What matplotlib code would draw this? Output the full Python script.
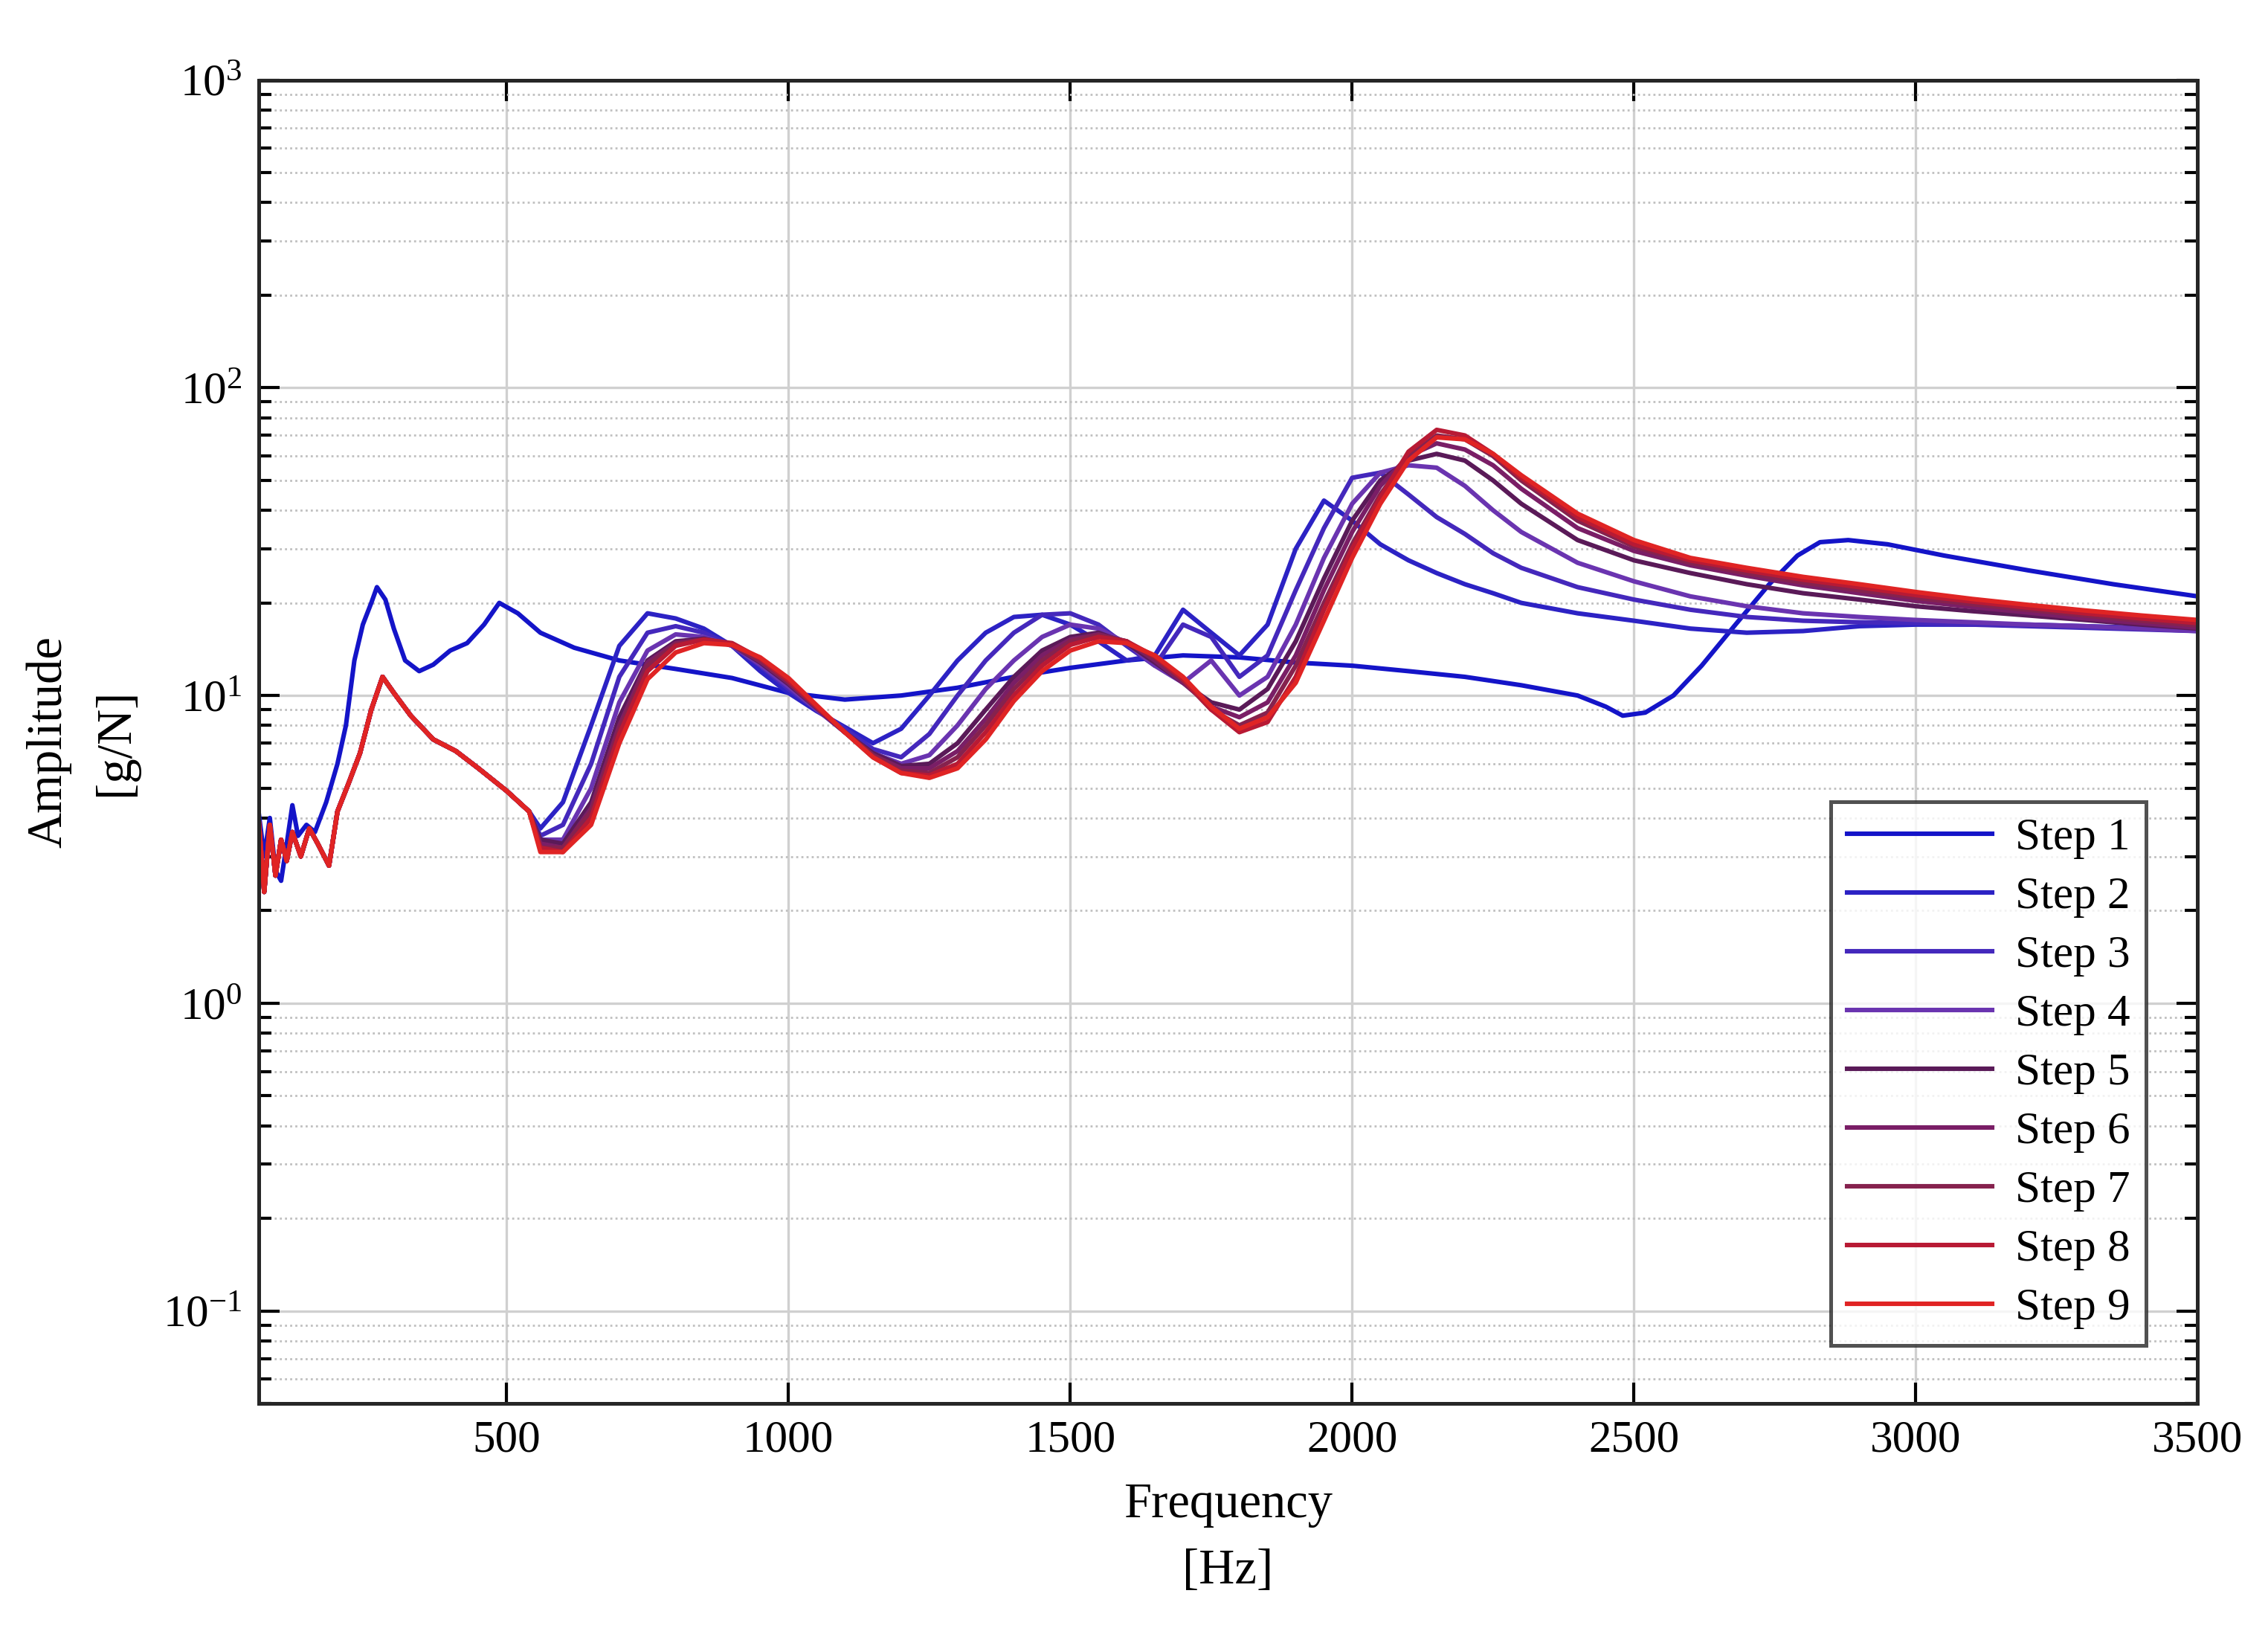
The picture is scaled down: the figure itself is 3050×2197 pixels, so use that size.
import matplotlib.pyplot as plt
from matplotlib.ticker import LogLocator, NullFormatter

plt.rcParams["font.family"] = ["Liberation Serif", "DejaVu Serif"]

# --- data (frequency in Hz, amplitude in g/N) ---
low_freq = [60, 70, 80, 90, 100, 110, 120, 135, 150, 165, 185, 200, 220, 240, 260, 280, 300, 330, 370, 410, 450, 500, 540]
low_amp = [4.0, 2.3, 3.8, 2.6, 3.4, 2.9, 3.6, 3.0, 3.7, 3.3, 2.8, 4.2, 5.2, 6.5, 9.0, 11.5, 10.2, 8.6, 7.2, 6.6, 5.8, 4.9, 4.2]

step1_f = [60, 70, 80, 90, 100, 110, 120, 130, 145, 160, 180, 200, 215, 230, 245, 260, 270, 285, 300, 320, 345, 370, 400, 430, 460, 487,
           520, 560, 620, 700, 800, 900, 1000, 1100, 1200, 1300, 1400, 1500, 1600, 1700, 1800, 1900, 2000, 2100, 2200, 2300, 2400,
           2450, 2480, 2520, 2570, 2620, 2680, 2740, 2790, 2830, 2880, 2950, 3050, 3200, 3350, 3500]
step1_a = [4.2, 3.0, 4.0, 2.7, 2.5, 3.3, 4.4, 3.5, 3.8, 3.6, 4.5, 6.0, 8.0, 13.0, 17.0, 20.0, 22.5, 20.5, 16.5, 13.0, 12.0, 12.6, 14.0, 14.8, 17.0, 20.0,
           18.5, 16.0, 14.3, 13.0, 12.2, 11.4, 10.2, 9.7, 10.0, 10.6, 11.5, 12.3, 13.0, 13.5, 13.3, 12.8, 12.5, 12.0, 11.5, 10.8, 10.0,
           9.2, 8.6, 8.8, 10.0, 12.5, 17.0, 23.0, 28.5, 31.5, 32.0, 31.0, 28.5, 25.5, 23.0, 21.0]

mid_freq = [560, 600, 650, 700, 750, 800, 850, 900, 950, 1000, 1050, 1100, 1150, 1200, 1250, 1300, 1350, 1400, 1450, 1500, 1550,
            1600, 1650, 1700, 1750, 1800, 1850, 1900, 1950, 2000, 2050, 2100, 2150, 2200, 2250, 2300, 2400, 2500, 2600, 2700,
            2800, 2900, 3000, 3100, 3200, 3300, 3400, 3500]
step2_a = [3.7, 4.5, 8.0, 14.5, 18.5, 17.8, 16.5, 14.5, 12.0, 10.2, 8.9, 7.9, 7.0, 7.8, 10.0, 13.0, 16.0, 18.0, 18.3, 17.0, 15.0,
           13.0, 13.5, 19.0, 16.0, 13.5, 17.0, 30.0, 43.0, 37.0, 31.0, 27.5, 25.0, 23.0, 21.5, 20.0, 18.5, 17.5, 16.5, 16.0,
           16.2, 16.8, 17.0, 17.0, 17.0, 16.8, 16.6, 16.4]
step3_a = [3.5, 3.8, 6.0, 11.5, 16.0, 16.8, 16.0, 14.5, 12.5, 10.5, 9.0, 7.8, 6.7, 6.3, 7.5, 10.0, 13.0, 16.0, 18.3, 18.5, 17.0,
           14.5, 12.5, 17.0, 15.5, 11.5, 13.5, 22.0, 35.0, 51.0, 53.0, 45.0, 38.0, 33.5, 29.0, 26.0, 22.5, 20.5, 19.0, 18.0,
           17.5, 17.3, 17.2, 17.0, 16.8, 16.6, 16.4, 16.2]
step4_a = [3.4, 3.4, 5.0, 9.5, 14.0, 15.8, 15.5, 14.5, 12.6, 10.7, 9.0, 7.6, 6.5, 6.0, 6.4, 8.0, 10.5, 13.0, 15.5, 17.0, 16.5,
           14.8, 12.5, 11.0, 13.0, 10.0, 11.5, 17.0, 28.0, 42.0, 53.0, 56.0, 55.0, 48.0, 40.0, 34.0, 27.0, 23.5, 21.0, 19.5,
           18.5, 18.0, 17.6, 17.3, 17.0, 16.8, 16.5, 16.2]
step5_a = [3.4, 3.3, 4.5, 8.5, 13.0, 15.0, 15.3, 14.6, 12.8, 10.9, 9.1, 7.6, 6.5, 5.9, 6.0, 7.0, 9.0, 11.5, 14.0, 15.5, 16.0,
           14.8, 12.8, 11.0, 9.5, 9.0, 10.5, 15.0, 24.0, 37.0, 50.0, 58.0, 61.0, 58.0, 50.0, 42.0, 32.0, 27.5, 25.0, 23.0,
           21.5, 20.5, 19.5, 18.8, 18.2, 17.6, 17.0, 16.5]
step6_a = [3.3, 3.2, 4.3, 8.0, 12.8, 14.8, 15.2, 14.6, 12.9, 11.0, 9.1, 7.6, 6.4, 5.8, 5.8, 6.6, 8.4, 11.0, 13.5, 15.2, 15.8,
           15.0, 13.0, 11.0, 9.2, 8.5, 9.5, 13.5, 22.0, 34.0, 48.0, 60.0, 66.0, 63.0, 56.0, 47.0, 35.0, 29.5, 26.5, 24.5,
           22.8, 21.5, 20.3, 19.4, 18.6, 17.8, 17.2, 16.6]
step7_a = [3.2, 3.2, 4.2, 7.8, 12.5, 14.7, 15.2, 14.7, 13.0, 11.1, 9.2, 7.6, 6.4, 5.7, 5.6, 6.3, 8.0, 10.5, 13.0, 15.0, 15.7,
           15.0, 13.2, 11.2, 9.0, 8.0, 8.8, 12.5, 20.0, 31.0, 45.0, 60.0, 70.0, 68.0, 60.0, 50.0, 37.0, 30.5, 27.0, 25.0,
           23.3, 22.0, 20.8, 19.8, 19.0, 18.2, 17.5, 16.9]
step8_a = [3.2, 3.1, 4.0, 7.5, 12.0, 14.5, 15.2, 14.8, 13.2, 11.2, 9.2, 7.6, 6.3, 5.6, 5.5, 6.0, 7.6, 10.0, 12.5, 14.6, 15.5,
           15.0, 13.4, 11.3, 9.0, 7.6, 8.2, 11.5, 19.0, 30.0, 44.0, 62.0, 73.0, 70.0, 61.0, 51.0, 38.0, 31.0, 27.5, 25.5,
           23.8, 22.5, 21.2, 20.2, 19.3, 18.5, 17.8, 17.2]
step9_a = [3.1, 3.1, 3.8, 7.0, 11.3, 13.8, 14.8, 14.6, 13.3, 11.4, 9.3, 7.6, 6.3, 5.6, 5.4, 5.8, 7.2, 9.6, 12.0, 14.0, 15.0,
           14.8, 13.5, 11.5, 9.2, 7.8, 8.5, 11.0, 17.5, 28.0, 42.0, 58.0, 69.0, 68.0, 61.0, 52.0, 39.0, 32.0, 28.0, 26.0,
           24.3, 23.0, 21.7, 20.6, 19.7, 18.9, 18.2, 17.6]

labels = [f"Step {i}" for i in range(1, 10)]
colors = ["#1414c8", "#2c22c4", "#4428bc", "#6a34b0", "#5a1a58", "#7a1e66", "#86224e", "#b81a34", "#e02424"]
later_steps = [step2_a, step3_a, step4_a, step5_a, step6_a, step7_a, step8_a, step9_a]

fig = plt.figure(figsize=(15.25, 10.985), dpi=200)
ax = fig.add_axes([0.114, 0.141, 0.855, 0.81])

ax.plot(step1_f, step1_a, color=colors[0], lw=2.2, label=labels[0])
for amp, col, lab in zip(later_steps, colors[1:], labels[1:]):
    ax.plot(low_freq + mid_freq, low_amp + amp, color=col, lw=2.2, label=lab)

ax.set_yscale("log")
ax.set_xlim(60, 3500)
ax.set_ylim(0.05, 1000)
ax.set_xticks([500, 1000, 1500, 2000, 2500, 3000, 3500])
ax.yaxis.set_minor_locator(LogLocator(base=10, subs=range(2, 10), numticks=50))
ax.yaxis.set_minor_formatter(NullFormatter())
ax.set_yticks([0.1, 1, 10, 100, 1000])

ax.grid(True, which="major", color="#d0d0d0", lw=1.2)
ax.grid(True, which="minor", axis="y", color="#c0c0c0", lw=1.0, ls=(0, (1, 1.5)))
ax.tick_params(which="both", direction="in", top=True, right=True, width=1.5, labelsize=22)
ax.tick_params(which="major", length=10, pad=8)
ax.tick_params(which="minor", length=6)
for sp in ax.spines.values():
    sp.set_linewidth(1.8)
    sp.set_color("#262626")

ax.set_xlabel("Frequency\n[Hz]", fontsize=24, linespacing=1.6, labelpad=10)
ax.set_ylabel("Amplitude\n[g/N]", fontsize=24, linespacing=1.6, labelpad=12)

leg = ax.legend(loc="lower right", bbox_to_anchor=(0.985, 0.027), fontsize=22, frameon=True, fancybox=False,
                handlelength=3.2, labelspacing=0.38, borderpad=0.35, handletextpad=0.5)
leg.get_frame().set_edgecolor("#262626")
leg.get_frame().set_linewidth(1.8)

fig.savefig("out.png", dpi=200)
